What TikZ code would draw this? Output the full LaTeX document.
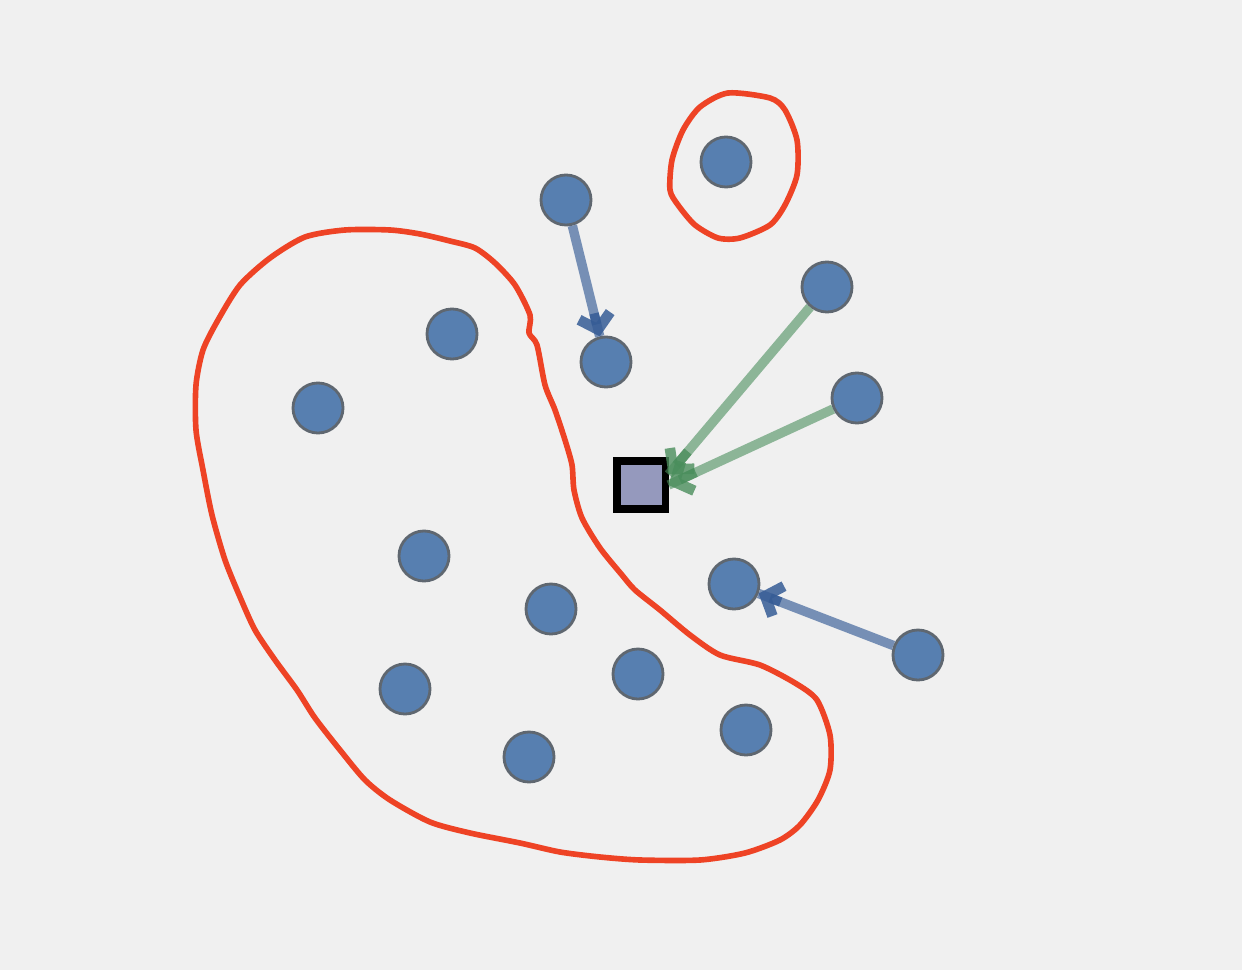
\documentclass[tikz,border=0pt]{standalone}
\usetikzlibrary{arrows.meta,calc}
\definecolor{bgcol}{HTML}{F0F0F0}
\definecolor{dotfill}{HTML}{577FB0}
\definecolor{dotline}{HTML}{5F6770}
\definecolor{blobred}{HTML}{EE4325}
\definecolor{linkblue}{HTML}{365C96}
\definecolor{linkgreen}{HTML}{4A8E5C}
\definecolor{boxfill}{HTML}{9599BD}
\tikzset{
  dot/.style={circle,fill=dotfill,draw=dotline,line width=0.8pt,minimum size=0.5cm,inner sep=0pt},
  target/.style={rectangle,fill=boxfill,draw=black,line width=2pt,minimum size=0.48cm,inner sep=0pt},
  blob/.style={draw=blobred,line width=1.6pt,line join=round},
  link/.style={line width=2.7pt},
  linkhead/.style={line width=2.7pt,-{Straight Barb[length=1.4mm,width=3.2mm,line width=3pt,line cap=butt]}},
}
\begin{document}
\begin{tikzpicture}[x=0.01cm,y=-0.01cm]
			\useasboundingbox[fill=bgcol] (0,0) rectangle (1242,970);
			% the two clusters
			\draw[blob] plot[smooth cycle,tension=0.45] coordinates {(345,230) (390,230) (420,234) (450,241) (475,248) (495,263) (515,285) (530,315) (529,333) (537,345) (545,385) (555,410) (565,440) (572,465) (574,490) (582,518) (600,548) (622,575) (635,590) (660,610) (690,635) (720,655) (760,665) (795,683) (817,700) (830,735) (830,770) (818,800) (800,825) (780,840) (745,853) (700,860) (640,860) (600,857) (560,852) (520,843) (470,833) (430,822) (390,800) (365,780) (340,750) (315,718) (297,690) (275,660) (255,630) (240,597) (225,560) (212,515) (203,470) (196,430) (196,385) (203,350) (218,320) (240,285) (270,258) (305,237)};
			\draw[blob] plot[smooth cycle,tension=0.45] coordinates {(728,93) (770,98) (785,110) (797,140) (797,175) (785,205) (770,225) (740,238) (718,238) (695,225) (678,205) (670,190) (672,160) (683,130) (700,107)};
			% points
			\node[dot] (a) at (566,200) {};
			\node[dot] (b) at (606,362) {};
			\node[dot] (c) at (726,162) {};
			\node[dot] (d) at (827,287) {};
			\node[dot] (e) at (857,398) {};
			\node[dot] (f) at (452,334) {};
			\node[dot] (g) at (318,408) {};
			\node[dot] (h) at (424,556) {};
			\node[dot] (i) at (551,609) {};
			\node[dot] (j) at (405,689) {};
			\node[dot] (k) at (529,757) {};
			\node[dot] (l) at (638,674) {};
			\node[dot] (m) at (746,730) {};
			\node[dot] (n) at (734,584) {};
			\node[dot] (o) at (918,655) {};
			\node[target] (q) at (641,485) {};
			\coordinate (qd) at ([yshift=3pt]q.east);
			% moves
			\draw[link,linkblue,draw opacity=0.65] (a)--(b);
			\draw[linkhead,linkblue,draw opacity=0.85] ($(b)!0.5cm!(a)$)--(b);
			\draw[link,linkblue,draw opacity=0.65] (o)--(n);
			\draw[linkhead,linkblue,draw opacity=0.85] ($(n)!0.5cm!(o)$)--(n);
			\draw[link,linkgreen,draw opacity=0.6] (d)--(qd);
			\draw[linkhead,linkgreen,draw opacity=0.8] ($(qd)!0.3cm!(d)$)--(qd);
			\draw[link,linkgreen,draw opacity=0.6] (e)--(q.east);
			\draw[linkhead,linkgreen,draw opacity=0.8] ($(q.east)!0.3cm!(e)$)--(q.east);
		\end{tikzpicture}
\end{document}
